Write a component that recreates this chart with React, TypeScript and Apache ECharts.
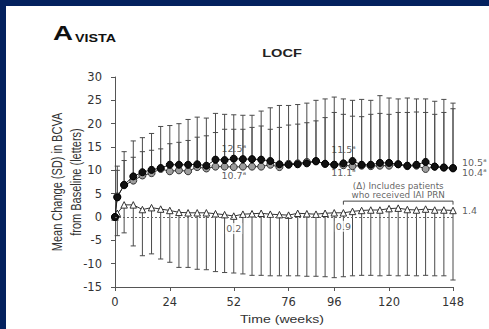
import React, { useEffect, useRef } from "react";
import * as echarts from "echarts";

const WEEKS = [0, 1, 4, 8, 12, 16, 20, 24, 28, 32, 36, 40, 44, 48, 52, 56, 60, 64, 68, 72, 76, 80, 84, 88, 92, 96, 100, 104, 108, 112, 116, 120, 124, 128, 132, 136, 140, 144, 148];
const X_TICKS = [0, 24, 52, 76, 96, 120, 148];

const BLACK = [0, 4.2, 6.9, 8.7, 9.6, 10.1, 10.5, 11.2, 11.2, 11.2, 11.3, 11.0, 12.3, 12.2, 12.5, 12.4, 12.4, 12.3, 12.0, 11.3, 11.2, 11.3, 11.5, 12.0, 11.4, 11.2, 11.5, 12.0, 11.2, 11.2, 11.6, 11.6, 11.3, 11.0, 11.2, 11.8, 10.8, 10.6, 10.5];
const GREY = [0, 4.4, 6.8, 7.8, 8.9, 9.4, 10.3, 9.8, 10.0, 9.8, 10.7, 10.4, 10.8, 10.8, 10.7, 10.8, 10.8, 10.8, 11.2, 10.7, 11.4, 11.5, 11.8, 11.9, 11.4, 11.2, 11.1, 10.9, 11.0, 10.9, 11.0, 11.0, 11.3, 10.9, 11.0, 10.3, 10.8, 10.6, 10.4];
const TRI = [0, 0.8, 2.6, 2.6, 1.6, 2.0, 1.7, 1.4, 1.0, 0.9, 0.9, 0.9, 0.7, 0.5, 0.2, 0.6, 0.7, 0.8, 0.6, 0.5, 0.4, 0.8, 0.7, 0.6, 0.8, 0.9, 0.9, 1.2, 1.4, 1.5, 1.5, 1.8, 1.9, 1.6, 1.5, 1.7, 1.5, 1.5, 1.4];

const GREY_TOP = [null, 10.9, 14.0, 16.3, 17.0, 17.9, 19.4, 19.6, 20.0, 20.9, 21.4, 21.2, 22.2, 22.0, 21.9, 21.8, 21.8, 22.7, 23.4, 23.9, 23.9, 24.1, 24.4, 25.0, 25.3, 25.7, 25.3, 25.0, 25.2, 25.0, 26.0, 25.5, 25.3, 25.5, 25.3, 25.3, 24.8, 25.2, 24.4];
const BLACK_TOP = [null, 10.0, 12.1, 12.8, 14.0, 14.3, 14.6, 15.7, 16.0, 16.4, 17.1, 17.4, 18.1, 18.8, 18.8, 18.8, 19.2, 19.5, 18.8, 19.2, 19.7, 19.9, 20.2, 20.6, 21.3, 22.4, 22.0, 21.6, 21.5, 22.0, 22.2, 22.0, 22.4, 22.4, 22.5, 22.4, 22.0, 22.4, 23.2];
const TRI_BOTTOM = [null, -4.0, -3.4, -6.2, -8.3, -7.9, -9.0, -9.7, -10.8, -10.8, -11.2, -11.3, -11.7, -11.9, -12.0, -12.2, -12.5, -12.5, -12.6, -12.6, -12.6, -12.6, -12.7, -12.7, -12.8, -13.0, -12.8, -12.6, -12.5, -12.5, -12.6, -12.5, -12.6, -12.5, -12.6, -12.5, -12.6, -12.6, -13.5];

const ANNOT_WEEKS = [52, 52, 100, 100, 148, 148, 148, 52, 100];
const ANNOT_VALUES = [12.5, 10.7, 11.5, 11.1, 10.5, 10.4, 1.4, 0.2, 0.9];
const ANNOT_TEXTS = ["12.5", "10.7", "11.5", "11.1", "10.5", "10.4", "1.4", "0.2", "0.9"];
const ANNOT_SUP = ["a", "a", "a", "a", "a", "a", "", "", ""];

const BRACKET_WEEKS = [100, 100, 148, 148];
const BRACKET_VALUES = [2.65, 3.4, 3.4, 2.65];
const BRACKET_NOTE = "(\u0394) Includes patients\nwho received IAI PRN";
const BRACKET_NOTE_AT = [124, 3.4];

const NAVY = "#04215e";
const BAR = "#4a4a4a";
const LABEL_FONT = "DejaVu Sans";
const TEXT_FONT = "Liberation Sans";

// per-annotation label placement (style)
const ANNOT_STYLE: any[] = [
  { position: "top", distance: 5 },
  { position: "bottom", distance: 3 },
  { position: "top", distance: 8 },
  { position: "bottom", distance: 1.5 },
  { position: "right", distance: 9, offset: [0, -6] },
  { position: "right", distance: 9, offset: [0, 4] },
  { position: "right", distance: 9, offset: [0, 0] },
  { position: "bottom", distance: 7, backgroundColor: "#fff", padding: [0, 1] },
  { position: "bottom", distance: 8, backgroundColor: "#fff", padding: [0, 1] },
];

function barData(mean: number[], end: (number | null)[]) {
  const out: number[][] = [];
  WEEKS.forEach((w, i) => {
    const e = end[i];
    if (e !== null && e !== undefined) out.push([w, mean[i], e]);
  });
  return out;
}

function errorSeries(mean: number[], end: (number | null)[], z: number) {
  return {
    type: "custom",
    z,
    silent: true,
    encode: { x: 0, y: [1, 2] },
    data: barData(mean, end),
    renderItem: (_p: any, api: any) => {
      const x = api.value(0);
      const a = api.coord([x, api.value(1)]);
      const b = api.coord([x, api.value(2)]);
      const cw = 2.6;
      return {
        type: "group",
        children: [
          { type: "line", shape: { x1: a[0], y1: a[1], x2: b[0], y2: b[1] }, style: { stroke: BAR, lineWidth: 1 } },
          { type: "line", shape: { x1: b[0] - cw, y1: b[1], x2: b[0] + cw, y2: b[1] }, style: { stroke: BAR, lineWidth: 1 } },
        ],
      };
    },
  };
}

export default function App() {
  const ref = useRef<HTMLDivElement>(null);
  useEffect(() => {
    if (!ref.current) return;
    const chart = echarts.init(ref.current, null, { renderer: "svg" });
    const pts = (vals: number[]) => WEEKS.map((w, i) => [w, vals[i]]);
    const option: any = {
      animation: false,
      backgroundColor: "transparent",
      grid: { left: 115, right: 36, top: 77, bottom: 42 },
      xAxis: {
        type: "value",
        min: 0,
        max: 148,
        splitLine: { show: false },
        axisLine: { onZero: false, lineStyle: { color: "#555", width: 1 } },
        axisTick: { show: true, customValues: X_TICKS, length: 4, lineStyle: { color: "#555" } },
        axisLabel: { customValues: X_TICKS, margin: 9, fontFamily: LABEL_FONT, fontSize: 11.5, color: "#333" },
      },
      yAxis: {
        type: "value",
        min: -15,
        max: 30,
        interval: 5,
        splitLine: { show: false },
        axisLine: { show: true, lineStyle: { color: "#555", width: 1 } },
        axisTick: { show: true, length: 4, lineStyle: { color: "#555" } },
        axisLabel: { margin: 13, fontFamily: LABEL_FONT, fontSize: 11.5, color: "#333" },
      },
      graphic: [
        { type: "text", x: 53, y: 43, scaleX: 1.32, style: { text: "A", font: `bold 21px "${TEXT_FONT}"`, fill: "#111", verticalAlign: "bottom" } },
        { type: "text", x: 75, y: 43.5, scaleX: 1.3, style: { text: "VISTA", font: `bold 11px "${TEXT_FONT}"`, fill: "#111", verticalAlign: "bottom" } },
        { type: "text", x: 282, y: 53, scaleX: 1.27, style: { text: "LOCF", font: `bold 11.5px "${TEXT_FONT}"`, fill: "#222", align: "center", verticalAlign: "middle" } },
        { type: "text", x: 282, y: 320, scaleX: 1.28, style: { text: "Time (weeks)", font: `11px "${TEXT_FONT}"`, fill: "#333", align: "center", verticalAlign: "middle" } },
        {
          type: "text", x: 67, y: 182, rotation: Math.PI / 2, scaleY: 1.27,
          style: { text: "Mean Change (SD) in BCVA\nfrom Baseline (letters)", font: `11px "${TEXT_FONT}"`, lineHeight: 15, fill: "#333", align: "center", verticalAlign: "middle" },
        },
      ],
      series: [
        {
          type: "line",
          data: [],
          markLine: {
            silent: true,
            symbol: "none",
            label: { show: false },
            lineStyle: { type: [2, 2], color: "#666", width: 1 },
            data: [{ yAxis: 0 }],
          },
        },
        errorSeries(TRI, TRI_BOTTOM, 2),
        errorSeries(GREY, GREY_TOP, 2),
        errorSeries(BLACK, BLACK_TOP, 2),
        {
          type: "line", z: 3, data: pts(TRI), symbol: "triangle", symbolSize: 6.5,
          itemStyle: { color: "#fff", borderColor: "#333", borderWidth: 1 },
          lineStyle: { color: "#333", width: 1 },
        },
        {
          type: "line", z: 3, data: pts(GREY), symbol: "circle", symbolSize: 7,
          itemStyle: { color: "#9d9d9d", borderColor: "#333", borderWidth: 1 },
          lineStyle: { color: "#333", width: 1 },
        },
        {
          type: "line", z: 4, data: pts(BLACK), symbol: "circle", symbolSize: 7,
          itemStyle: { color: "#111", borderColor: "#000", borderWidth: 1 },
          lineStyle: { color: "#222", width: 1 },
        },
        {
          type: "line", z: 3, data: BRACKET_WEEKS.map((w, i) => [w, BRACKET_VALUES[i]]), symbol: "none",
          lineStyle: { color: "#444", width: 1 },
        },
        {
          type: "scatter", z: 5, symbolSize: 0, silent: true,
          data: [{ value: BRACKET_NOTE_AT, label: { show: true, position: "top", distance: 1, formatter: BRACKET_NOTE, fontFamily: LABEL_FONT, fontSize: 8.8, lineHeight: 9.5, color: "#3a3a3a" } }],
        },
        {
          type: "scatter", z: 6, symbolSize: 0, silent: true,
          data: ANNOT_WEEKS.map((w, i) => ({
            value: [w, ANNOT_VALUES[i]],
            label: {
              show: true,
              formatter: ANNOT_SUP[i] ? `{v|${ANNOT_TEXTS[i]}}{s|${ANNOT_SUP[i]}}` : `{v|${ANNOT_TEXTS[i]}}`,
              rich: {
                v: { fontFamily: LABEL_FONT, fontSize: 9.5, color: "#333", lineHeight: 11 },
                s: { fontFamily: LABEL_FONT, fontSize: 5.5, color: "#333", lineHeight: 11, verticalAlign: "top" },
              },
              ...ANNOT_STYLE[i],
            },
          })),
        },
      ],
    };
    chart.setOption(option);
    return () => chart.dispose();
  }, []);
  return (
    <div style={{ position: "fixed", left: 0, top: 0, width: 489, height: 329, overflow: "hidden", background: "#fff" }}>
      <div style={{ position: "absolute", left: 0, top: 0, width: 489, height: 6, background: NAVY }} />
      <div style={{ position: "absolute", left: 0, top: 0, width: 6, height: 329, background: NAVY }} />
      <div ref={ref} style={{ position: "absolute", left: 0, top: 0, width: 489, height: 329 }} />
    </div>
  );
}
